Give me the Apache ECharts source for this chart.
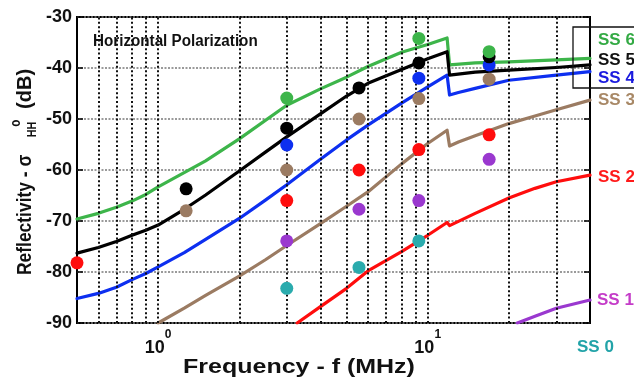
<!DOCTYPE html>
<html>
<head>
<meta charset="utf-8">
<script src="https://cdn.jsdelivr.net/npm/echarts@6/dist/echarts.min.js"></script>
<style>
  html, body { margin: 0; padding: 0; background: #fff; }
  #chart { width: 634px; height: 385px; }
</style>
</head>
<body>
<div id="chart"></div>
<script>
// Modelled HH reflectivity curves (dB) versus frequency (MHz), one per sea state
const ss6Freq = [0.5, 0.6, 0.7, 0.8, 0.9, 1, 1.5, 2, 3, 4, 5, 6, 8, 10, 11.8, 12.05, 15, 20, 30, 40];
const ss6Val  = [-69.6, -68.5, -67.3, -66.1, -64.8, -63.3, -58.2, -53.9, -47.3, -44.1, -41.8, -39.7, -36.9, -35.4, -34.1, -39.4, -39.0, -38.8, -38.4, -38.1];

const ss5Freq = [0.5, 0.6, 0.7, 0.8, 0.9, 1, 1.25, 1.5, 2, 2.5, 3, 4, 5, 6, 8, 10, 11.8, 12.05, 15, 20, 30, 40];
const ss5Val  = [-76.3, -75.2, -74.0, -72.8, -71.8, -70.8, -67.7, -64.9, -60.2, -56.5, -53.5, -49.0, -45.5, -43.0, -40.3, -38.2, -36.8, -41.4, -40.8, -40.4, -39.9, -39.4];

const ss4Freq = [0.5, 0.6, 0.7, 0.8, 0.9, 1, 1.25, 1.5, 2, 2.5, 3, 4, 5, 6, 8, 10, 11.8, 12.05, 13, 15, 20, 30, 40];
const ss4Val  = [-85.2, -84.2, -83.0, -81.5, -80.3, -79.0, -76.2, -73.6, -69.5, -65.9, -62.9, -57.9, -54.1, -51.2, -46.9, -43.7, -41.4, -45.3, -44.8, -44.0, -42.4, -41.4, -40.7];

const ss3Freq = [1, 1.25, 1.5, 2, 2.5, 3, 4, 5, 6, 8, 10, 11.8, 12.05, 13, 15, 20, 25, 30, 40];
const ss3Val  = [-90.0, -87.1, -84.6, -80.8, -77.6, -74.8, -70.5, -67.1, -64.3, -58.8, -54.8, -52.2, -55.3, -54.5, -53.3, -50.9, -49.4, -48.2, -46.3];

const ss2Freq = [3.28, 4, 5, 6, 8, 10, 11.8, 12.05, 15, 20, 25, 30, 40];
const ss2Val  = [-90.0, -86.8, -83.2, -79.8, -76.0, -72.8, -70.3, -70.9, -68.5, -65.5, -63.6, -62.3, -61.0];

const ss1Freq = [21.5, 25, 30, 40];
const ss1Val  = [-90.0, -88.7, -87.1, -85.5];

// Measured reflectivity points (dB)
const ss6PtFreq = [3, 9.27, 16.9];
const ss6PtVal  = [-45.9, -34.2, -36.8];
const ss5PtFreq = [1.27, 3, 5.56, 9.27, 16.9];
const ss5PtVal  = [-63.7, -51.8, -43.9, -39.0, -37.8];
const ss4PtFreq = [3, 9.27, 16.9];
const ss4PtVal  = [-55.1, -42.0, -39.4];
const ss3PtFreq = [1.27, 3, 5.56, 9.27, 16.9];
const ss3PtVal  = [-68.0, -60.0, -50.0, -46.0, -42.2];
const ss2PtFreq = [0.5, 3, 5.56, 9.27, 16.9];
const ss2PtVal  = [-78.2, -66.0, -60.0, -56.0, -53.1];
const ss1PtFreq = [3, 5.56, 9.27, 16.9];
const ss1PtVal  = [-73.9, -67.7, -66.0, -57.9];
const ss0PtFreq = [3, 5.56, 9.27];
const ss0PtVal  = [-83.2, -79.1, -73.9];

// Axis ranges and the dotted frequency grid
const freqMin = 0.5, freqMax = 40;
const dbMin = -90, dbMax = -30, dbStep = 10;
const freqGrid = [0.6, 0.7, 0.8, 0.9, 1, 2, 3, 4, 5, 6, 7, 8, 9, 10, 20, 30];

const seriesNames = ['SS 6', 'SS 5', 'SS 4', 'SS 3', 'SS 2', 'SS 1', 'SS 0'];

const FONT = 'Arial, "Liberation Sans", Helvetica, sans-serif';
const C = {
  ss6: '#3db54a', ss5: '#000000', ss4: '#0d2ff0', ss3: '#9b7b62',
  ss2: '#ff0d0d', ss1: '#9a38cf', ss0: '#2aabad'
};

const zip = (f, v) => f.map((x, i) => [x, v[i]]);

function curve(name, f, v, color, z) {
  return {
    name, type: 'line', data: zip(f, v), showSymbol: false, symbol: 'none',
    lineStyle: { color, width: 3.2, join: 'round', cap: 'round' }, itemStyle: { color }, z, clip: true, silent: true
  };
}
function points(name, f, v, color) {
  return {
    name: name + ' pts', type: 'scatter', data: zip(f, v), symbol: 'circle', symbolSize: 13,
    itemStyle: { color, opacity: 1 }, z: 5, clip: false, silent: true
  };
}

const chart = echarts.init(document.getElementById('chart'), null, { renderer: 'canvas' });

chart.setOption({
  animation: false,
  backgroundColor: '#fff',
  grid: {
    left: 77, right: 44, top: 17, bottom: 62,
    show: true, borderColor: '#000', borderWidth: 2, backgroundColor: 'transparent'
  },
  xAxis: {
    type: 'log', logBase: 10, min: freqMin, max: freqMax,
    axisLine: { show: false },
    axisTick: { show: false },
    splitLine: { show: false },
    minorTick: { show: false },
    axisLabel: {
      showMinLabel: false, showMaxLabel: false, margin: 6,
      formatter: function (v) {
        const e = Math.log10(v);
        if (Math.abs(e - Math.round(e)) > 1e-6) return '';
        return '{b|10}{s|' + Math.round(e) + '}';
      },
      rich: {
        b: { fontFamily: FONT, fontSize: 18, fontWeight: 'bold', color: '#111', padding: [10, 0, 0, 0] },
        s: { fontFamily: FONT, fontSize: 12, fontWeight: 'bold', color: '#111', verticalAlign: 'top' }
      }
    }
  },
  yAxis: [{
    type: 'value', min: dbMin, max: dbMax, interval: dbStep,
    axisLine: { show: false },
    axisTick: { show: true, inside: true, length: 6, lineStyle: { color: '#000', width: 1.5 } },
    splitLine: { show: true, lineStyle: { color: '#7a7a7a', width: 1.6, type: [2, 1.5] } },
    axisLabel: { margin: 5, fontFamily: FONT, fontSize: 18, fontWeight: 'bold', color: '#111' }
  }, {
    type: 'value', min: dbMin, max: dbMax, interval: dbStep, position: 'right',
    axisLine: { show: false },
    axisTick: { show: true, inside: true, length: 6, lineStyle: { color: '#000', width: 1.5 } },
    splitLine: { show: false },
    axisLabel: { show: false }
  }],
  series: [
    {
      name: 'freq grid', type: 'line', data: [], z: 1, silent: true,
      markLine: {
        silent: true, symbol: ['none', 'none'], animation: false,
        label: { show: false },
        lineStyle: { color: '#111', width: 2, type: [2, 2.4] },
        emphasis: { disabled: true },
        data: freqGrid.map(f => ({ xAxis: f }))
      }
    },
    curve(seriesNames[5], ss1Freq, ss1Val, C.ss1, 3),
    curve(seriesNames[4], ss2Freq, ss2Val, C.ss2, 3),
    curve(seriesNames[3], ss3Freq, ss3Val, C.ss3, 3),
    curve(seriesNames[2], ss4Freq, ss4Val, C.ss4, 3),
    curve(seriesNames[0], ss6Freq, ss6Val, C.ss6, 3),
    curve(seriesNames[1], ss5Freq, ss5Val, C.ss5, 3),
    points(seriesNames[6], ss0PtFreq, ss0PtVal, C.ss0),
    points(seriesNames[5], ss1PtFreq, ss1PtVal, C.ss1),
    points(seriesNames[4], ss2PtFreq, ss2PtVal, C.ss2),
    points(seriesNames[3], ss3PtFreq, ss3PtVal, C.ss3),
    points(seriesNames[2], ss4PtFreq, ss4PtVal, C.ss4),
    points(seriesNames[1], ss5PtFreq, ss5PtVal, C.ss5),
    points(seriesNames[0], ss6PtFreq, ss6PtVal, C.ss6)
  ],
  graphic: [
    // panel title
    {
      type: 'text', x: 93, y: 42, z: 10, scaleX: 0.95,
      style: { text: 'Horizontal Polarization', font: 'bold 16px ' + FONT, fill: '#111', verticalAlign: 'middle' }
    },
    // x axis title
    {
      type: 'text', x: 299, y: 367, z: 10, scaleX: 1.19,
      style: { text: 'Frequency - f (MHz)', font: 'bold 21px ' + FONT, fill: '#111', align: 'center', verticalAlign: 'middle' }
    },
    // y axis title, written bottom-to-top
    {
      type: 'group', x: 25, y: 275, rotation: Math.PI / 2, scaleX: 0.83, z: 10,
      children: [
        { type: 'text', x: 0, y: 0, style: { text: 'Reflectivity - σ', font: 'bold 21px ' + FONT, fill: '#111', align: 'left', verticalAlign: 'middle' } },
        { type: 'text', x: 183, y: -9, style: { text: 'o', font: 'bold 14px ' + FONT, fill: '#111', align: 'center', verticalAlign: 'middle' } },
        { type: 'text', x: 166, y: 7, style: { text: 'HH', font: 'bold 13px ' + FONT, fill: '#111', align: 'left', verticalAlign: 'middle' } },
        { type: 'text', x: 200, y: 0, scaleX: 1.15, style: { text: '(dB)', font: 'bold 21px ' + FONT, fill: '#111', align: 'left', verticalAlign: 'middle' } }
      ]
    },
    // legend box around the upper three labels
    {
      type: 'rect', z: 10, shape: { x: 573, y: 27, width: 80, height: 61 },
      style: { fill: 'none', stroke: '#111', lineWidth: 1.3 }
    },
    { type: 'text', x: 598, y: 40, z: 10, style: { text: seriesNames[0], font: 'bold 17px ' + FONT, fill: '#33aa44', verticalAlign: 'middle' } },
    { type: 'text', x: 598, y: 60.5, z: 10, style: { text: seriesNames[1], font: 'bold 17px ' + FONT, fill: '#111', verticalAlign: 'middle' } },
    { type: 'text', x: 598, y: 78.5, z: 10, style: { text: seriesNames[2], font: 'bold 17px ' + FONT, fill: '#1a1ade', verticalAlign: 'middle' } },
    { type: 'text', x: 598, y: 100, z: 10, style: { text: seriesNames[3], font: 'bold 17px ' + FONT, fill: '#a88866', verticalAlign: 'middle' } },
    { type: 'text', x: 598, y: 177, z: 10, style: { text: seriesNames[4], font: 'bold 17px ' + FONT, fill: '#ff1a1a', verticalAlign: 'middle' } },
    { type: 'text', x: 597, y: 300, z: 10, style: { text: seriesNames[5], font: 'bold 17px ' + FONT, fill: '#c43cc8', verticalAlign: 'middle' } },
    { type: 'text', x: 577, y: 347, z: 10, style: { text: seriesNames[6], font: 'bold 17px ' + FONT, fill: '#22a3a8', verticalAlign: 'middle' } }
  ]
});
</script>
</body>
</html>
